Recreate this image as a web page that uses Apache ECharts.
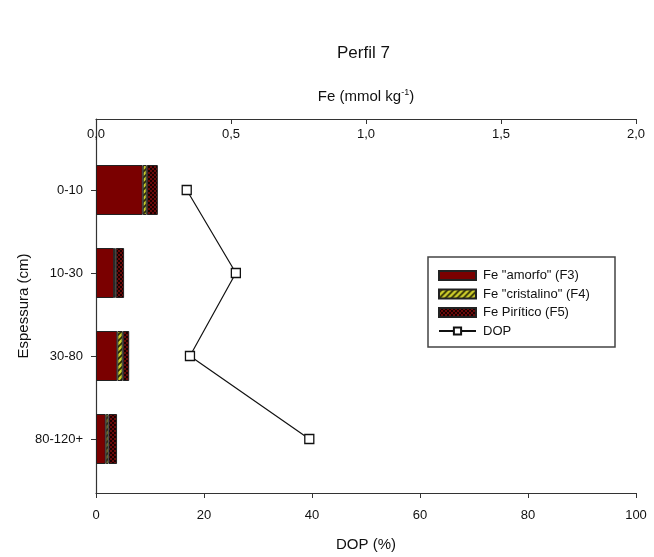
<!DOCTYPE html>
<html>
<head>
<meta charset="utf-8">
<script src="https://cdn.jsdelivr.net/npm/echarts@6/dist/echarts.min.js"></script>
<style>
html,body{margin:0;padding:0;background:#fff;}
#c{width:654px;height:557px;}
</style>
</head>
<body>
<div id="c"></div>
<script>
// ---- data ----
var categories = ['0-10', '10-30', '30-80', '80-120+'];
var feAmorfo = [0.173, 0.067, 0.079, 0.036];      // F3
var feCristalino = [0.015, 0.006, 0.020, 0.010];  // F4
var fePiritico = [0.041, 0.031, 0.024, 0.032];    // F5
var dop = [16.8, 25.9, 17.4, 39.5];
var feTicks = [0, 0.5, 1.0, 1.5, 2.0];
var dopTicks = [0, 20, 40, 60, 80, 100];

function makeHatch() {
  var c = document.createElement('canvas');
  c.width = 6; c.height = 6;
  var g = c.getContext('2d');
  g.fillStyle = '#2b2b05';
  g.fillRect(0, 0, 6, 6);
  g.strokeStyle = '#cccc2c';
  g.lineWidth = 2.6;
  g.beginPath();
  g.moveTo(-1, 7); g.lineTo(7, -1);
  g.moveTo(-4, 4); g.lineTo(4, -4);
  g.moveTo(2, 10); g.lineTo(10, 2);
  g.stroke();
  return c;
}
function makeChecker() {
  var c = document.createElement('canvas');
  c.width = 4; c.height = 4;
  var g = c.getContext('2d');
  g.fillStyle = '#1a0000';
  g.fillRect(0, 0, 4, 4);
  g.fillStyle = '#6a0a0a';
  g.fillRect(0, 0, 2, 2);
  g.fillRect(2, 2, 2, 2);
  return c;
}

var FONT = 'Liberation Sans, Arial, sans-serif';
var chart = echarts.init(document.getElementById('c'), null, {renderer: 'canvas'});

var gridLeft = 96, gridRight = 18;

var option = {
  backgroundColor: '#ffffff',
  animation: false,
  textStyle: {fontFamily: FONT, color: '#111'},
  graphic: [
    {type: 'text', left: 337, top: 45,
     style: {text: 'Perfil 7', font: '17px ' + FONT, fill: '#111'}},
    {type: 'rect', shape: {x: 428, y: 257, width: 187, height: 90},
     style: {fill: 'none', stroke: '#444', lineWidth: 1.5}, z: 10}
  ],
  legend: {
    orient: 'vertical',
    left: 428, top: 257,
    padding: [12, 10, 10, 10],
    itemWidth: 37, itemHeight: 9,
    itemGap: 5.5,
    textStyle: {fontFamily: FONT, fontSize: 13, color: '#111', padding: [0, 0, 0, 2]},
    data: [
      {name: 'Fe "amorfo" (F3)', icon: 'rect'},
      {name: 'Fe "cristalino" (F4)', icon: 'rect'},
      {name: 'Fe Pirítico (F5)', icon: 'rect'},
      {name: 'DOP'}
    ]
  },
  grid: [
    {left: gridLeft, right: gridRight, top: 148.5, height: 332},
    {left: gridLeft, right: gridRight, top: 119, height: 378}
  ],
  xAxis: [
    {gridIndex: 0, type: 'value', min: 0, max: 2, show: false},
    {gridIndex: 0, type: 'value', min: 0, max: 100, show: false},
    {gridIndex: 1, type: 'value', position: 'top', min: 0, max: 2, interval: 0.5,
     splitLine: {show: false},
     axisLine: {show: true, onZero: false, lineStyle: {color: '#333', width: 1.2}},
     axisTick: {show: true, inside: true, length: 5, lineStyle: {color: '#333'}},
     axisLabel: {inside: true, margin: 9, fontSize: 13, color: '#111', fontFamily: FONT,
       formatter: function (v) { return v.toFixed(1).replace('.', ','); }},
     name: 'Fe (mmol kg{sup|-1})', nameLocation: 'middle', nameGap: 14,
     nameTextStyle: {fontSize: 15, color: '#111', fontFamily: FONT,
       rich: {sup: {fontSize: 9, verticalAlign: 'top', padding: [0, 0, 8, 0], fontFamily: FONT, color: '#111'}}}
    },
    {gridIndex: 1, type: 'value', position: 'bottom', min: 0, max: 100, interval: 20,
     splitLine: {show: false},
     axisLine: {show: true, onZero: false, lineStyle: {color: '#333', width: 1.2}},
     axisTick: {show: true, inside: false, length: 5, lineStyle: {color: '#333'}},
     axisLabel: {margin: 16, fontSize: 13, color: '#111', fontFamily: FONT},
     name: 'DOP (%)', nameLocation: 'middle', nameGap: 44,
     nameTextStyle: {fontSize: 15, color: '#111', fontFamily: FONT}
    }
  ],
  yAxis: [
    {gridIndex: 0, type: 'category', inverse: true, data: categories,
     axisLine: {show: false},
     axisTick: {show: true, alignWithLabel: true, length: 5, lineStyle: {color: '#333'}},
     axisLabel: {margin: 13, fontSize: 13, color: '#111', fontFamily: FONT}
    },
    {gridIndex: 1, type: 'value', min: 0, max: 1,
     axisLine: {show: true, onZero: false, lineStyle: {color: '#333', width: 1.2}},
     axisTick: {show: false}, axisLabel: {show: false}, splitLine: {show: false},
     name: 'Espessura (cm)', nameLocation: 'middle', nameGap: 65,
     nameTextStyle: {fontSize: 15, color: '#111', fontFamily: FONT}
    }
  ],
  series: [
    {name: 'Fe "amorfo" (F3)', type: 'bar', stack: 'fe', xAxisIndex: 0, yAxisIndex: 0,
     barWidth: 50, data: feAmorfo,
     itemStyle: {color: '#7a0000', borderColor: '#222', borderWidth: 1}},
    {name: 'Fe "cristalino" (F4)', type: 'bar', stack: 'fe', xAxisIndex: 0, yAxisIndex: 0,
     barWidth: 50, data: feCristalino,
     itemStyle: {color: {image: makeHatch(), repeat: 'repeat'}, borderColor: '#222', borderWidth: 1}},
    {name: 'Fe Pirítico (F5)', type: 'bar', stack: 'fe', xAxisIndex: 0, yAxisIndex: 0,
     barWidth: 50, data: fePiritico,
     itemStyle: {color: {image: makeChecker(), repeat: 'repeat'}, borderColor: '#222', borderWidth: 1}},
    {name: 'DOP', type: 'line', xAxisIndex: 1, yAxisIndex: 0, data: dop,
     symbol: 'rect', symbolSize: 9, z: 5,
     lineStyle: {color: '#111', width: 1.2},
     itemStyle: {color: '#fff', borderColor: '#111', borderWidth: 1.3}}
  ]
};
chart.setOption(option);
</script>
</body>
</html>
